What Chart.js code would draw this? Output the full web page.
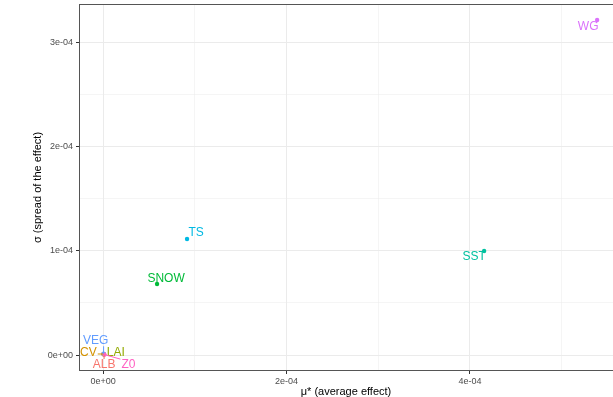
<!DOCTYPE html>
<html>
<head>
<meta charset="utf-8">
<script src="https://cdn.jsdelivr.net/npm/chart.js@4/dist/chart.umd.min.js"></script>
<style>
  html, body { margin: 0; padding: 0; background: #fff; }
  canvas { display: block; }
</style>
</head>
<body>
<canvas id="morris" width="613" height="397"></canvas>
<script>
// ------------ DATA ------------

const names  = ['ALB', 'CV', 'LAI', 'SNOW', 'SST', 'TS', 'VEG', 'WG', 'Z0'];
const muStar = [1.2e-6, 0.4e-6, 0.8e-6, 5.89e-5, 4.155e-4, 9.16e-5, 0.6e-6, 5.387e-4, 1.5e-6];
const sigma  = [0.5e-6, 1.0e-6, 0.8e-6, 6.81e-5, 9.97e-5, 1.112e-4, 1.2e-6, 3.212e-4, 0.4e-6];

// ggplot hue palette, one colour per parameter
const colors = ['#F8766D', '#D39200', '#93AA00', '#00BA38', '#00C19F', '#00B9E3', '#619CFF', '#DB72FB', '#FF61C3'];

// where the repelled labels sit relative to their point (px)
const labelOffset = {
    ALB: [0, 10], CV: [-15, -1], LAI: [12, -2], SNOW: [9, -5], SST: [-10, 6],
    TS: [9, -6], VEG: [-8, -13], WG: [-9, 7], Z0: [24, 10]
};

const FONT = '"Liberation Sans", Arial, sans-serif';

// ------------ HELPERS ------------

function sci(v){
    if (Math.abs(v) < 1e-12) return '0e+00';
    const e = Math.floor(Math.log10(Math.abs(v)) + 1e-9);
    const m = Math.round(v / Math.pow(10, e));
    return m + 'e' + (e < 0 ? '-' : '+') + String(Math.abs(e)).padStart(2, '0');
}

function isMajor(value, step){
    return Math.round(value / step) % 2 === 0;
}

const panelBorder = {
    id: 'panelBorder',
    beforeDatasetsDraw(chart){
        const a = chart.chartArea, ctx = chart.ctx;
        ctx.save();
        ctx.strokeStyle = '#555555';
        ctx.lineWidth = 1;
        ctx.strokeRect(a.left + 0.5, a.top + 0.5, a.right - a.left + 2, a.bottom - a.top - 1);
        ctx.restore();
    }
};

const pointLabels = {
    id: 'pointLabels',
    afterDatasetsDraw(chart){
        const ctx = chart.ctx;
        const meta = chart.getDatasetMeta(0);
        ctx.save();
        ctx.font = '12px ' + FONT;
        ctx.textAlign = 'center';
        ctx.textBaseline = 'middle';
        meta.data.forEach(function(pt, i){
            const off = labelOffset[names[i]];
            const lx = pt.x + off[0], ly = pt.y + off[1];
            const w = ctx.measureText(names[i]).width;
            const h = 9;
            const bx = Math.max(lx - w/2 - 1, Math.min(pt.x, lx + w/2 + 1));
            const by = Math.max(ly - h/2 - 1, Math.min(pt.y, ly + h/2 + 1));
            if (Math.hypot(bx - pt.x, by - pt.y) > 3){
                ctx.strokeStyle = colors[i];
                ctx.lineWidth = 1;
                ctx.beginPath();
                ctx.moveTo(pt.x, pt.y);
                ctx.lineTo(bx, by);
                ctx.stroke();
            }
            ctx.fillStyle = colors[i];
            ctx.fillText(names[i], lx, ly);
        });
        ctx.restore();
    }
};

// ------------ CHART ------------

const points = names.map(function(n, i){ return { x: muStar[i], y: sigma[i] }; });

const tickFont = { family: FONT, size: 9 };
const titleFont = { family: FONT, size: 11 };

const config = {
    type: 'scatter',
    data: {
        datasets: [{
            label: 'parameters',
            data: points,
            pointBackgroundColor: colors,
            pointBorderWidth: 0,
            pointRadius: 2.2
        }]
    },
    options: {
        responsive: false,
        animation: false,
        layout: { autoPadding: false, padding: { top: 4, right: 0, left: 0, bottom: 0 } },
        plugins: {
            legend: { display: false },
            tooltip: { enabled: false }
        },
        scales: {
            x: {
                type: 'linear',
                min: -0.262e-4,
                max: 5.56e-4,
                border: { display: false },
                ticks: {
                    stepSize: 1e-4,
                    includeBounds: false,
                    autoSkip: false,
                    maxRotation: 0,
                    padding: 2,
                    color: '#4D4D4D',
                    font: tickFont,
                    callback: function(v){ return isMajor(v, 1e-4) ? sci(v) : ''; }
                },
                grid: {
                    color: '#EBEBEB',
                    lineWidth: function(c){ return isMajor(c.tick.value, 1e-4) ? 1 : 0.5; },
                    tickColor: function(c){ return isMajor(c.tick.value, 1e-4) ? '#333333' : 'rgba(0,0,0,0)'; },
                    tickWidth: 1,
                    tickLength: 3
                },
                title: {
                    display: true,
                    text: 'μ* (average effect)',
                    color: '#000',
                    font: titleFont,
                    padding: { top: 0, bottom: -2 }
                },
                afterFit: function(s){
                    s.height = 26;
                    s.paddingLeft = 0;
                    s.paddingRight = 0;
                }
            },
            y: {
                type: 'linear',
                min: -0.153e-4,
                max: 3.365e-4,
                border: { display: false },
                ticks: {
                    stepSize: 0.5e-4,
                    includeBounds: false,
                    autoSkip: false,
                    padding: 3,
                    color: '#4D4D4D',
                    font: tickFont,
                    callback: function(v){ return isMajor(v, 0.5e-4) ? sci(v) : ''; }
                },
                grid: {
                    color: '#EBEBEB',
                    lineWidth: function(c){ return isMajor(c.tick.value, 0.5e-4) ? 1 : 0.5; },
                    tickColor: function(c){ return isMajor(c.tick.value, 0.5e-4) ? '#333333' : 'rgba(0,0,0,0)'; },
                    tickWidth: 1,
                    tickLength: 3
                },
                title: {
                    display: true,
                    text: 'σ (spread of the effect)',
                    color: '#000',
                    font: titleFont,
                    padding: { top: 31, bottom: 0 }
                },
                afterFit: function(s){
                    s.width = 79;
                    s.paddingTop = 0;
                    s.paddingBottom = 0;
                }
            }
        }
    },
    plugins: [panelBorder, pointLabels]
};

var ctx = document.getElementById('morris').getContext('2d');
const morrisChart = new Chart(ctx, config);
</script>
</body>
</html>
